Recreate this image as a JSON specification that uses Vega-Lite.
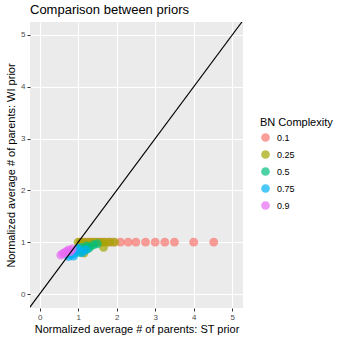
{
  "$schema": "https://vega.github.io/schema/vega-lite/v6.json",
  "autosize": "none",
  "padding": {"left": 30, "top": 22, "right": 95, "bottom": 30},
  "width": 213,
  "height": 286,
  "background": "white",
  "title": {"text": "Comparison between priors", "anchor": "start", "frame": "group", "fontSize": 13, "fontWeight": "normal", "font": "Liberation Sans", "color": "black", "offset": 5},
  "config": {
    "view": {"fill": "#EBEBEB", "stroke": null},
    "axis": {"domain": false, "labelFont": "Liberation Sans", "titleFont": "Liberation Sans", "labelColor": "#4D4D4D", "labelFontSize": 8, "titleFontSize": 11, "titleFontWeight": "normal", "titleColor": "black", "tickColor": "#333333", "tickSize": 3, "gridColor": "white"},
    "legend": {"titleFont": "Liberation Sans", "labelFont": "Liberation Sans", "titleFontSize": 11, "titleFontWeight": "normal", "labelFontSize": 9, "titleColor": "black", "labelColor": "black"}
  },
  "datasets": {
    "pts": [
      {"st": 1.05, "wi": 1.0, "c": "0.1"}, {"st": 1.15, "wi": 1.0, "c": "0.1"}, {"st": 1.25, "wi": 1.0, "c": "0.1"}, {"st": 1.35, "wi": 1.0, "c": "0.1"}, {"st": 1.45, "wi": 1.0, "c": "0.1"}, {"st": 1.55, "wi": 1.0, "c": "0.1"}, {"st": 1.65, "wi": 1.0, "c": "0.1"}, {"st": 1.78, "wi": 1.0, "c": "0.1"}, {"st": 1.9, "wi": 1.0, "c": "0.1"}, {"st": 2.1, "wi": 1.0, "c": "0.1"}, {"st": 2.3, "wi": 1.0, "c": "0.1"}, {"st": 2.5, "wi": 1.0, "c": "0.1"}, {"st": 2.75, "wi": 1.0, "c": "0.1"}, {"st": 3.0, "wi": 1.0, "c": "0.1"}, {"st": 3.25, "wi": 1.0, "c": "0.1"}, {"st": 3.5, "wi": 1.0, "c": "0.1"}, {"st": 4.0, "wi": 1.0, "c": "0.1"}, {"st": 4.52, "wi": 1.0, "c": "0.1"}, {"st": 1.2, "wi": 0.95, "c": "0.1"},
      {"st": 1.0, "wi": 1.0, "c": "0.25"}, {"st": 1.08, "wi": 1.0, "c": "0.25"}, {"st": 1.18, "wi": 1.0, "c": "0.25"}, {"st": 1.3, "wi": 1.0, "c": "0.25"}, {"st": 1.4, "wi": 1.0, "c": "0.25"}, {"st": 1.5, "wi": 1.0, "c": "0.25"}, {"st": 1.6, "wi": 1.0, "c": "0.25"}, {"st": 1.7, "wi": 1.0, "c": "0.25"}, {"st": 1.82, "wi": 1.0, "c": "0.25"}, {"st": 1.95, "wi": 1.0, "c": "0.25"}, {"st": 1.66, "wi": 0.9, "c": "0.25"}, {"st": 1.15, "wi": 0.79, "c": "0.25"}, {"st": 1.35, "wi": 0.95, "c": "0.25"},
      {"st": 1.0, "wi": 0.85, "c": "0.5"}, {"st": 1.1, "wi": 0.9, "c": "0.5"}, {"st": 1.15, "wi": 0.84, "c": "0.5"}, {"st": 1.22, "wi": 0.93, "c": "0.5"}, {"st": 1.3, "wi": 0.9, "c": "0.5"}, {"st": 1.4, "wi": 0.95, "c": "0.5"}, {"st": 1.5, "wi": 0.97, "c": "0.5"}, {"st": 1.05, "wi": 0.8, "c": "0.5"}, {"st": 1.25, "wi": 0.87, "c": "0.5"},
      {"st": 0.75, "wi": 0.72, "c": "0.75"}, {"st": 0.8, "wi": 0.76, "c": "0.75"}, {"st": 0.85, "wi": 0.8, "c": "0.75"}, {"st": 0.9, "wi": 0.78, "c": "0.75"}, {"st": 0.95, "wi": 0.85, "c": "0.75"}, {"st": 1.0, "wi": 0.88, "c": "0.75"}, {"st": 1.1, "wi": 0.8, "c": "0.75"}, {"st": 1.2, "wi": 0.85, "c": "0.75"}, {"st": 0.88, "wi": 0.73, "c": "0.75"},
      {"st": 0.55, "wi": 0.75, "c": "0.9"}, {"st": 0.6, "wi": 0.78, "c": "0.9"}, {"st": 0.65, "wi": 0.8, "c": "0.9"}, {"st": 0.7, "wi": 0.82, "c": "0.9"}, {"st": 0.75, "wi": 0.85, "c": "0.9"}, {"st": 0.8, "wi": 0.82, "c": "0.9"}, {"st": 0.85, "wi": 0.87, "c": "0.9"}
    ],
    "diag": [{"st": -0.6, "wi": -0.6}, {"st": 5.6, "wi": 5.6}]
  },
  "layer": [
    {
      "data": {"name": "pts"},
      "mark": {"type": "circle", "size": 78, "opacity": 0.7},
      "encoding": {
        "x": {"field": "st", "type": "quantitative", "scale": {"domain": [-0.25, 5.28], "nice": false, "zero": false},
          "axis": {"title": "Normalized average # of parents: ST prior", "values": [0, 0.5, 1, 1.5, 2, 2.5, 3, 3.5, 4, 4.5, 5], "labelExpr": "datum.value % 1 === 0 ? format(datum.value, 'd') : ''", "tickOpacity": {"condition": {"test": "datum.value % 1 === 0", "value": 1}, "value": 0}, "gridWidth": {"condition": {"test": "datum.value % 1 === 0", "value": 1.1}, "value": 0.55}, "titlePadding": 2, "labelPadding": 2}},
        "y": {"field": "wi", "type": "quantitative", "scale": {"domain": [-0.27, 5.25], "nice": false, "zero": false},
          "axis": {"title": "Normalized average # of parents: WI prior", "values": [0, 0.5, 1, 1.5, 2, 2.5, 3, 3.5, 4, 4.5, 5], "labelExpr": "datum.value % 1 === 0 ? format(datum.value, 'd') : ''", "tickOpacity": {"condition": {"test": "datum.value % 1 === 0", "value": 1}, "value": 0}, "gridWidth": {"condition": {"test": "datum.value % 1 === 0", "value": 1.1}, "value": 0.55}, "titlePadding": 4, "labelPadding": 2}},
        "color": {"field": "c", "type": "nominal", "title": "BN Complexity",
          "scale": {"domain": ["0.1", "0.25", "0.5", "0.75", "0.9"], "range": ["#F8766D", "#A3A500", "#00BF7D", "#00B0F6", "#E76BF3"]},
          "legend": {"orient": "none", "legendX": 230, "legendY": 95, "symbolSize": 75, "symbolOpacity": 0.7, "rowPadding": 6, "titlePadding": 4, "labelOffset": 6}}
      }
    },
    {
      "data": {"name": "diag"},
      "mark": {"type": "line", "color": "black", "strokeWidth": 1.1, "clip": true},
      "encoding": {
        "x": {"field": "st", "type": "quantitative"},
        "y": {"field": "wi", "type": "quantitative"}
      }
    }
  ]
}
